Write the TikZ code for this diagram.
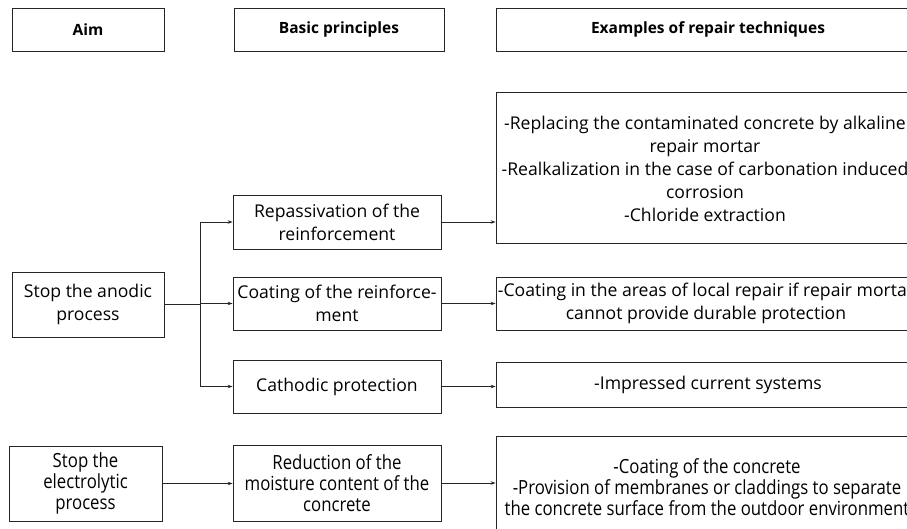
\documentclass[tikz,border=0pt]{standalone}
\usepackage{fontspec}
\setmainfont{Open Sans}
\newfontfamily\condfont[FakeStretch=0.86]{Open Sans}
\usetikzlibrary{arrows.meta}
\tikzset{
  box/.style={draw=black!85, line width=0.8pt, rectangle, inner sep=0pt, align=center},
  hdr/.style={box, font=\fontsize{15.5}{19}\selectfont\bfseries},
  txt/.style={inner sep=0pt, align=center, font=\fontsize{17.6}{23}\selectfont},
  ctxt/.style={inner sep=0pt, align=center, font=\condfont\fontsize{19.5}{21}\selectfont},
  arr/.style={draw=black!85, line width=0.7pt, -{Stealth[length=5pt,width=3.5pt]}},
  ln/.style={draw=black!85, line width=0.7pt}
}
\begin{document}
\begin{tikzpicture}[x=1pt,y=-1pt]
\useasboundingbox (0,0) rectangle (907,529);
\clip (0,0) rectangle (907,529);
% headers
\node[hdr, minimum width=152pt, minimum height=43pt] (hAim) at (88,29.5) {Aim};
\node[hdr, minimum width=210pt, minimum height=43pt] (hBasic) at (339,29.5) {Basic principles};
\node[hdr, minimum width=424pt, minimum height=43pt] (hEx) at (708,29.5) {Examples of repair techniques};
% left column
\node[box, minimum width=152pt, minimum height=65pt] (anodic) at (88,304.5) {};
\node[txt] (anodicT) at (anodic.center) {Stop the anodic\\process};
\node[box, minimum width=153pt, minimum height=75pt] (electro) at (85.5,483.5) {};
\node[ctxt] (electroT) at (electro.center) {Stop the\\electrolytic\\process};
% middle column
\node[box, minimum width=208pt, minimum height=54pt] (rep) at (337,222) {};
\node[txt] (repT) at (rep.center) {Repassivation of the\\reinforcement};
\node[box, minimum width=208pt, minimum height=53pt] (coat) at (337,303.5) {};
\node[txt] (coatT) at (coat.center) {Coating of the reinforce-\\ment};
\node[box, minimum width=208pt, minimum height=53pt] (cat) at (337,386.5) {};
\node[txt] (catT) at (cat.center) {Cathodic protection};
\node[box, minimum width=208pt, minimum height=76pt] (red) at (337,483) {};
\node[ctxt] (redT) at (red.center) {Reduction of the\\moisture content of the\\concrete};
% right column
\node[box, minimum width=430pt, minimum height=151pt] (repair) at (711,167.5) {};
\node[txt] (repairT) at (705,169) {-Replacing the contaminated concrete by alkaline\\repair mortar\\-Realkalization in the case of carbonation induced\\corrosion\\-Chloride extraction};
\node[box, minimum width=430pt, minimum height=53pt] (coatR) at (711,303.5) {};
\node[txt] (coatRT) at (706,303.5) {-Coating in the areas of local repair if repair mortar\\cannot provide durable protection};
\node[box, minimum width=430pt, minimum height=45pt] (imp) at (711,384.5) {};
\node[txt] (impT) at (708,384.5) {-Impressed current systems};
\node[box, minimum width=430pt, minimum height=110pt] (mem) at (711,491) {};
\node[ctxt] (memT) at (707,487) {-Coating of the concrete\\-Provision of membranes or claddings to separate\\the concrete surface from the outdoor environment};
% connectors
\coordinate (br) at (200,304.5);
\draw[ln] (anodic.east) -- (br);
\draw[ln] (br |- rep.west) -- (br |- cat.west);
\draw[arr] (br |- rep.west) -- (rep.west);
\draw[arr] (br |- coat.west) -- (coat.west);
\draw[arr] (br |- cat.west) -- (cat.west);
\draw[arr] (rep.east) -- (rep.east -| repair.west);
\draw[arr] (coat.east) -- (coat.east -| coatR.west);
\draw[arr] (cat.east) -- (cat.east -| imp.west);
\draw[arr] (red.east) -- (red.east -| mem.west);
\draw[arr] (electro.east) -- (electro.east -| red.west);
\end{tikzpicture}
\end{document}
